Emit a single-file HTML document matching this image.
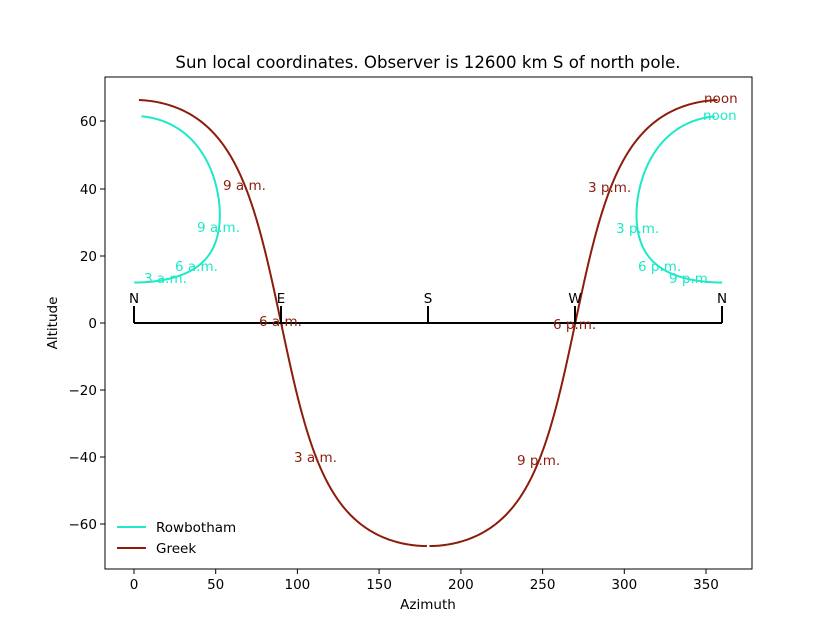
<!DOCTYPE html>
<html><head><meta charset="utf-8"><style>
body{margin:0;background:#fff}
svg text{font-family:"DejaVu Sans","Liberation Sans",sans-serif}
</style></head><body>
<svg id="s" width="836" height="639" viewBox="0 0 836 639" xmlns="http://www.w3.org/2000/svg">
<rect width="836" height="639" fill="#fff"/>
<text x="428" y="68" font-size="16.6" text-anchor="middle">Sun local coordinates. Observer is 12600 km S of north pole.</text>
<g id="curves"></g>
<path d="M134 323H722M134 323V306M281 323V306M428 323V306M575 323V306M722 323V306" stroke="#000" stroke-width="2" fill="none"/>
<g font-size="13.5" text-anchor="middle">
<text x="134" y="303">N</text><text x="281" y="303">E</text><text x="428" y="303">S</text><text x="575" y="303">W</text><text x="722" y="303">N</text>
</g>
<g font-size="13.5" fill="#8c1c0b">
<text x="223" y="190">9 a.m.</text><text x="259" y="326">6 a.m.</text><text x="294" y="462">3 a.m.</text>
<text x="588" y="192">3 p.m.</text><text x="553" y="329">6 p.m.</text><text x="517" y="465">9 p.m.</text>
<text x="704" y="103">noon</text>
</g>
<g font-size="13.5" fill="#1de9c8">
<text x="197" y="232">9 a.m.</text><text x="175" y="271">6 a.m.</text><text x="144" y="283">3 a.m.</text>
<text x="616" y="233">3 p.m.</text><text x="638" y="271">6 p.m.</text><text x="669" y="283">9 p.m.</text>
<text x="703" y="120">noon</text>
</g>
<rect x="105" y="77" width="647" height="492" fill="none" stroke="#000" stroke-width="1"/>
<g stroke="#000" stroke-width="1">
<path d="M134 569v5M215.7 569v5M297.4 569v5M379.1 569v5M460.9 569v5M542.6 569v5M624.3 569v5M706 569v5"/>
<path d="M105 524h-5M105 457h-5M105 390h-5M105 323h-5M105 256h-5M105 189h-5M105 121h-5"/>
</g>
<g font-size="13.5" text-anchor="middle">
<text x="134" y="589">0</text><text x="215.7" y="589">50</text><text x="297.4" y="589">100</text><text x="379.1" y="589">150</text><text x="460.9" y="589">200</text><text x="542.6" y="589">250</text><text x="624.3" y="589">300</text><text x="706" y="589">350</text>
</g>
<g font-size="13.5" text-anchor="end">
<text x="97" y="529">−60</text><text x="97" y="462">−40</text><text x="97" y="395">−20</text><text x="97" y="328">0</text><text x="97" y="261">20</text><text x="97" y="194">40</text><text x="97" y="126">60</text>
</g>
<text x="428" y="609" font-size="13.5" text-anchor="middle">Azimuth</text>
<text transform="translate(57 323) rotate(-90)" font-size="13.5" text-anchor="middle">Altitude</text>
<path d="M117 527h29" stroke="#1de9c8" stroke-width="2"/>
<path d="M117 548h29" stroke="#8c1c0b" stroke-width="2"/>
<text x="156" y="532" font-size="13.5">Rowbotham</text>
<text x="156" y="553" font-size="13.5">Greek</text>
</svg>
<script>
(function(){
var X=function(a){return 134+a*1.6343},Y=function(h){return 323-h*3.355};
var R=Math.PI/180,g=document.getElementById('curves'),out='';
function path(pts,c){var d='';pts.forEach(function(p,i){d+=(i?'L':'M')+X(p[0]).toFixed(2)+' '+Y(p[1]).toFixed(2);});
out+='<path d="'+d+'" stroke="'+c+'" stroke-width="2" fill="none"/>';}
var phi=23.5*R,gl=[],gr=[],rl=[],rr=[];
for(var t=1.2;t<=180.001;t+=0.5){var H=t*R;
var up=Math.cos(phi)*Math.cos(H),no=Math.sin(phi)*Math.cos(H),ea=Math.sin(H);
var alt=Math.asin(up)/R,az=Math.atan2(ea,no)/R;gl.push([az,alt]);gr.push([360-az,alt]);
var n2=12600-10000*Math.cos(H),e2=10000*Math.sin(H),d=Math.sqrt(n2*n2+e2*e2);
var a2=Math.atan(4828/d)/R,z2=Math.atan2(e2,n2)/R;rl.push([z2,a2]);rr.push([360-z2,a2]);}
path(rl,'#1de9c8');path(rr,'#1de9c8');path(gl,'#8c1c0b');path(gr,'#8c1c0b');
g.innerHTML=out;})();
</script>
</body></html>
